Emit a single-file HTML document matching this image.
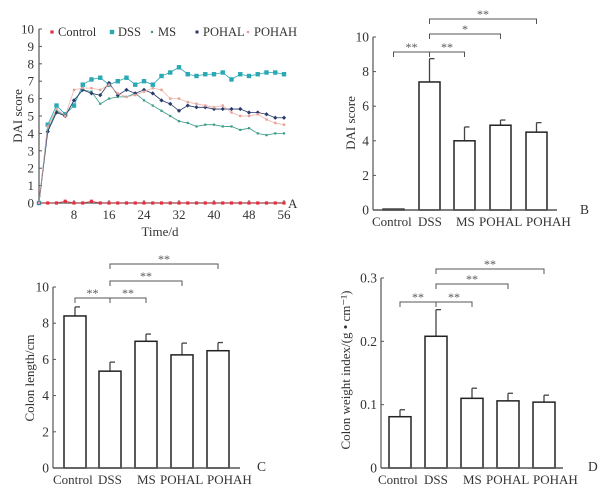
<!DOCTYPE html>
<html><head><meta charset="utf-8"><style>
body{margin:0;background:#fff;}
svg{display:block;font-family:"Liberation Serif",serif;}
</style></head><body>
<svg id="s" width="606" height="496" viewBox="0 0 606 496"></svg>
<script>
const days=[0,2,4,6,8,10,12,14,16,18,20,22,24,26,28,30,32,34,36,38,40,42,44,46,48,50,52,54,56];
const ctrlA=[0,0,0,0.1,0,0,0.1,0,0,0,0,0,0,0,0,0,0,0,0,0,0,0,0,0,0,0,0,0,0];
const dssA=[0,4.5,5.6,5.1,5.6,6.8,7.1,7.2,6.8,7.0,7.2,6.8,7.0,6.8,7.3,7.5,7.8,7.4,7.3,7.4,7.4,7.5,7.1,7.4,7.3,7.4,7.5,7.5,7.4];
const msA=[0,4.2,5.3,5.0,5.9,6.5,6.4,5.7,6.0,6.1,6.1,6.3,5.9,5.6,5.3,5.0,4.7,4.6,4.4,4.5,4.5,4.4,4.4,4.2,4.3,4.0,3.9,4.0,4.0];
const pohalA=[0,4.1,5.2,5.0,5.9,6.5,6.3,6.2,6.9,6.2,6.5,6.3,6.5,6.3,5.9,5.7,5.3,5.6,5.5,5.5,5.4,5.4,5.4,5.4,5.2,5.2,5.1,4.9,4.9];
const pohahA=[0,4.4,5.4,5.0,6.5,6.6,6.6,6.5,6.8,6.3,6.1,6.2,6.4,6.6,6.5,6.0,6.0,5.8,5.7,5.6,5.5,5.6,5.2,5.0,5.0,5.1,4.8,4.6,4.5];
const groups=["Control","DSS","MS","POHAL","POHAH"];
const daiMean=[0.05,7.4,4.0,4.9,4.5];
const daiErr=[0,1.35,0.8,0.3,0.55];
const lenMean=[8.4,5.35,7.0,6.25,6.48];
const lenErr=[0.5,0.5,0.4,0.65,0.45];
const cwiMean=[0.081,0.208,0.110,0.106,0.104];
const cwiErr=[0.011,0.042,0.016,0.012,0.011];
const yTicksA=[0,1,2,3,4,5,6,7,8,9,10];
const xTicksA=[8,16,24,32,40,48,56];

const NS="http://www.w3.org/2000/svg",S=document.getElementById('s');
function el(t,a,txt){const e=document.createElementNS(NS,t);for(const k in a)e.setAttribute(k,a[k]);if(txt!==undefined)e.textContent=txt;S.appendChild(e);return e;}
const AX="#555";

// ---- Chart A
const ax=d=>39+d*(245/56), ay=v=>203-v*17.4;
let e;
e=el('line',{x1:39,y1:29,x2:39,y2:203,stroke:AX,'stroke-width':1.2});

e=el('line',{x1:39,y1:203,x2:284,y2:203,stroke:AX,'stroke-width':1.2});

yTicksA.forEach(v=>{e=el('text',{x:34,y:ay(v)+4.5,'text-anchor':'end','font-size':13,fill:'#333'},v);

el('line',{x1:39,y1:ay(v),x2:42,y2:ay(v),stroke:AX});});
xTicksA.forEach(v=>{e=el('text',{x:ax(v),y:219,'text-anchor':'middle','font-size':13,fill:'#333'},v);

el('line',{x1:ax(v),y1:203,x2:ax(v),y2:200,stroke:AX});});
e=el('text',{x:160,y:236,'text-anchor':'middle','font-size':13,fill:'#333'},'Time/d');

e=el('text',{x:0,y:0,'text-anchor':'middle','font-size':13,fill:'#333',transform:'translate(22,116) rotate(-90)'},'DAI score');

e=el('text',{x:288,y:208,'font-size':13,fill:'#333'},'A');

const series=[["Control",ctrlA,"#e03040",1.6],["DSS",dssA,"#2aa8b4",2.2],["MS",msA,"#3a9a88",1.1],["POHAL",pohalA,"#2a3a6a",1.5],["POHAH",pohahA,"#e8a098",1.2]];
series.forEach(([n,vals,c,r])=>{
 const pts=vals.map((v,i)=>ax(days[i])+','+ay(v)).join(' ');
 e=el('polyline',{points:pts,fill:'none',stroke:c,'stroke-width':0.8,opacity:n=="POHAH"?0.8:1});
 
 vals.forEach((v,i)=>{e=el('rect',{x:ax(days[i])-r,y:ay(v)-r,width:2*r,height:2*r,fill:c,transform:n=="POHAL"?`rotate(45 ${ax(days[i])} ${ay(v)})`:''});
 });
});
const legX=[52,112,152,197,248];
series.forEach(([n,v,c,r],i)=>{
 el('rect',{x:legX[i]-r,y:32-r,width:2*r,height:2*r,fill:c});
 e=el('text',{x:legX[i]+6,y:36,'font-size':12.5,fill:'#333'},n);
 
});

// ---- bar charts
const labOff=[-11,-1,2,-11,0];
function bars(cfg){
 const {left,right,y0,ytop,max,ticks,fmt,mean,err,bx,bw,title,tx,ty,lab,lx,ly,brk,id}=cfg;
 const sy=v=>y0-(v/max)*(y0-ytop);
 e=el('line',{x1:left,y1:ytop,x2:left,y2:y0,stroke:AX,'stroke-width':1.2});
 
 ticks.forEach(v=>{e=el('text',{x:left-4,y:sy(v)+4.5,'text-anchor':'end','font-size':13.5,fill:'#333'},fmt(v));
  
  el('line',{x1:left,y1:sy(v),x2:left+3,y2:sy(v),stroke:AX});});
 mean.forEach((m,i)=>{
  const x=bx[i],cx=x+bw/2;
  e=el('line',{x1:cx,y1:sy(m),x2:cx,y2:sy(m+err[i]),stroke:'#444','stroke-width':1.3});
  
  el('line',{x1:cx,y1:sy(m+err[i]),x2:cx+5,y2:sy(m+err[i]),stroke:'#444','stroke-width':1.3});
  e=el('rect',{x:x,y:sy(m),width:bw,height:y0-sy(m),fill:'#fff',stroke:'#222','stroke-width':1.5});
  
  e=el('text',{x:x+labOff[i],y:y0+16,'font-size':13,fill:'#333'},groups[i]);
  
 });
 e=el('line',{x1:left,y1:y0,x2:right,y2:y0,stroke:AX,'stroke-width':1.4});
 
 e=el('text',{x:0,y:0,'text-anchor':'middle','font-size':13,fill:'#333',transform:`translate(${tx},${ty}) rotate(-90)`},title);
 
 e=el('text',{x:lx,y:ly,'font-size':13.5,fill:'#333'},lab);
 
 brk.forEach(([a,b,y,s])=>{
  const xa=bx[a]+bw/2,xb=bx[b]+bw/2;
  e=el('path',{d:`M${xa} ${y+5}V${y}H${xb}V${y+5}`,fill:'none',stroke:'#555','stroke-width':1});
  
  e=el('text',{x:(xa+xb)/2,y:y-1,'text-anchor':'middle','font-size':12,fill:'#555'},s);
  
 });
}
bars({id:'b',left:373,right:557,y0:210,ytop:37,max:10,ticks:[0,2,4,6,8,10],fmt:v=>v,mean:daiMean,err:daiErr,
 bx:[383,419,454,490,526],bw:21,title:'DAI score',tx:355,ty:123,lab:'B',lx:580,ly:214,
 brk:[[0,1,52,'**'],[1,2,52,'**'],[1,3,34,'*'],[1,4,19,'**']]});
bars({id:'c',left:53,right:240,y0:468,ytop:287,max:10,ticks:[0,2,4,6,8,10],fmt:v=>v,mean:lenMean,err:lenErr,
 bx:[64,99,135,171,207],bw:22,title:'Colon length/cm',tx:34,ty:378,lab:'C',lx:257,ly:471,
 brk:[[0,1,298,'**'],[1,2,298,'**'],[1,3,281,'**'],[1,4,264,'**']]});
bars({id:'d',left:381,right:563,y0:468,ytop:278,max:0.3,ticks:[0,0.1,0.2,0.3],fmt:v=>v==0?'0':v.toFixed(1),mean:cwiMean,err:cwiErr,
 bx:[389,425,461,497,533],bw:22,title:'Colon weight index/(g • cm⁻¹)',tx:350,ty:370,lab:'D',lx:588,ly:471,
 brk:[[0,1,302,'**'],[1,2,302,'**'],[1,3,284,'**'],[1,4,269,'**']]});
</script>
</body></html>
